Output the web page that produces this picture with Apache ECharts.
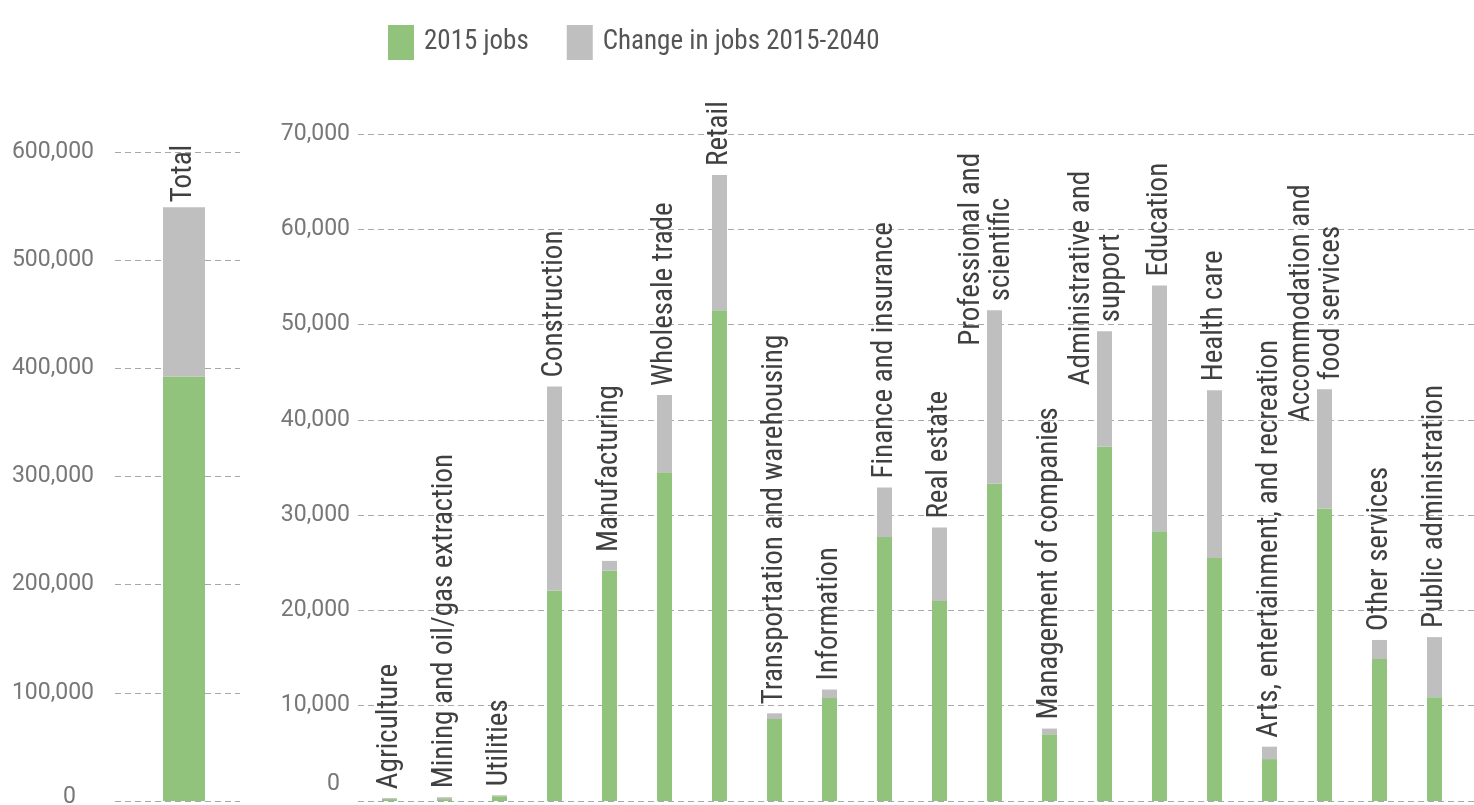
<!DOCTYPE html>
<html>
<head>
<meta charset="utf-8">
<script src="https://cdn.jsdelivr.net/npm/echarts@6/dist/echarts.min.js"></script>
<style>
  html, body { margin: 0; padding: 0; background: #ffffff; }
  #chart { width: 1474px; height: 805px; }
</style>
</head>
<body>
<div id="chart"></div>
<script>
// ---- data ----
const seriesNames = ['2015 jobs', 'Change in jobs 2015-2040'];
const totalCategory = ['Total'];
const totalJobs2015 = [392500];
const totalChange = [156500];
const categories = [
  'Agriculture',
  'Mining and oil/gas extraction',
  'Utilities',
  'Construction',
  'Manufacturing',
  'Wholesale trade',
  'Retail',
  'Transportation and warehousing',
  'Information',
  'Finance and insurance',
  'Real estate',
  'Professional and\nscientific',
  'Management of companies',
  'Administrative and\nsupport',
  'Education',
  'Health care',
  'Arts, entertainment, and recreation',
  'Accommodation and\nfood services',
  'Other services',
  'Public administration'
];
const jobs2015 = [200, 200, 500, 22100, 24200, 34500, 51500, 8600, 10800, 27700, 21000, 33300, 7000, 37200, 28300, 25500, 4400, 30700, 14900, 10900];
const jobsChange = [100, 200, 100, 21400, 1000, 8100, 14200, 600, 900, 5200, 7700, 18200, 600, 12100, 25800, 17600, 1300, 12500, 2000, 6300];
const leftTicks = { min: 0, max: 600000, interval: 100000 };
const rightTicks = { min: 0, max: 70000, interval: 10000 };

// ---- styles ----
const GREEN = '#91c37c';
const GREY = '#bfbfbf';
const labelFont = "'Liberation Sans Narrow', 'Roboto Condensed', 'DejaVu Sans Condensed', sans-serif";
const tickFont = "Roboto, 'Liberation Sans', sans-serif";
const LABEL_SIZE = 29;

function fmt(v) { return Number(v).toLocaleString('en-US'); }
function catLabel(p) {
  return String(p.name).split('\n').map(s => '{c|' + s + '}').join('\n');
}
const catLabelStyle = {
  show: true,
  position: 'top',
  rotate: 90,
  align: 'left',
  verticalAlign: 'middle',
  distance: 9,
  color: '#404040',
  fontFamily: labelFont,
  fontSize: LABEL_SIZE,
  lineHeight: 30,
  formatter: catLabel,
  rich: { c: { align: 'center', color: '#404040', fontFamily: labelFont, fontSize: LABEL_SIZE, lineHeight: 30 } }
};
const splitLineStyle = { show: true, lineStyle: { color: '#a8a8a8', type: [6, 4], width: 1 } };
function yLabel(padZero, margin) {
  return {
    color: '#777777',
    fontFamily: tickFont,
    fontSize: 23,
    margin: margin,
    formatter: function (v) { return v === 0 ? '{z|0}' : fmt(v); },
    rich: { z: { color: '#777777', fontFamily: tickFont, fontSize: 23, padding: padZero } }
  };
}
const hiddenX = { type: 'category', data: [], axisLine: { show: false }, axisTick: { show: false }, axisLabel: { show: false } };
function barX(grid, data) {
  return { type: 'category', gridIndex: grid, data: data, axisLine: { show: false }, axisTick: { show: false }, axisLabel: { show: false } };
}
function hiddenY(grid, t) {
  return { type: 'value', gridIndex: grid, min: t.min, max: t.max, interval: t.interval, show: false, splitLine: { show: false } };
}

// multi-line labels: centred lines, with the last (shorter) line resting on the bar.
// dx/dy act in the label's rotated frame (dx: along the text, dy: across it).
const measureCtx = document.createElement('canvas').getContext('2d');
measureCtx.font = LABEL_SIZE + 'px ' + labelFont;
function shiftMultiline(p) {
  const raw = String(p.text || '').replace(/\{c\|([^}]*)\}/g, '$1');
  if (raw.indexOf('\n') < 0) return {};
  const widths = raw.split('\n').map(s => measureCtx.measureText(s).width);
  const longest = Math.max.apply(null, widths);
  const last = widths[widths.length - 1];
  return { dx: -(longest - last) / 2, dy: -8 };
}

const chart = echarts.init(document.getElementById('chart'), null, { renderer: 'canvas' });
chart.setOption({
  animation: false,
  backgroundColor: '#ffffff',
  legend: {
    data: seriesNames,
    left: 383,
    top: 20,
    icon: 'rect',
    itemWidth: 26,
    itemHeight: 35,
    itemGap: 38,
    textStyle: { color: '#555555', fontFamily: labelFont, fontSize: 27, padding: [0, 0, 0, 5] }
  },
  grid: [
    { left: 115, width: 125, top: 152, bottom: 4, outerBoundsMode: 'none', containLabel: false },   // left gridlines + axis
    { left: 121.5, width: 125, top: 152, bottom: 4, outerBoundsMode: 'none', containLabel: false }, // total bar
    { left: 358, right: 0, top: 134, bottom: 4, outerBoundsMode: 'none', containLabel: false },     // right gridlines + axis
    { left: 362, width: 1100, top: 134, bottom: 4, outerBoundsMode: 'none', containLabel: false }   // industry bars
  ],
  xAxis: [
    Object.assign({ gridIndex: 0 }, hiddenX),
    barX(1, totalCategory),
    Object.assign({ gridIndex: 2 }, hiddenX),
    barX(3, categories)
  ],
  yAxis: [
    { type: 'value', gridIndex: 0, min: leftTicks.min, max: leftTicks.max, interval: leftTicks.interval,
      axisLine: { show: false }, axisTick: { show: false }, splitLine: splitLineStyle, axisLabel: yLabel([0, 18, 8, 0], 21) },
    hiddenY(1, leftTicks),
    { type: 'value', gridIndex: 2, min: rightTicks.min, max: rightTicks.max, interval: rightTicks.interval,
      axisLine: { show: false }, axisTick: { show: false }, splitLine: splitLineStyle, axisLabel: yLabel([0, 10, 34, 0], 8) },
    hiddenY(3, rightTicks)
  ],
  series: [
    { name: seriesNames[0], type: 'bar', xAxisIndex: 1, yAxisIndex: 1, stack: 'total', barWidth: 42,
      itemStyle: { color: GREEN }, data: totalJobs2015 },
    { name: seriesNames[1], type: 'bar', xAxisIndex: 1, yAxisIndex: 1, stack: 'total', barWidth: 42,
      itemStyle: { color: GREY }, data: totalChange, label: Object.assign({}, catLabelStyle, { distance: 5 }) },
    { name: seriesNames[0], type: 'bar', xAxisIndex: 3, yAxisIndex: 3, stack: 'ind', barWidth: 15,
      itemStyle: { color: GREEN }, data: jobs2015 },
    { name: seriesNames[1], type: 'bar', xAxisIndex: 3, yAxisIndex: 3, stack: 'ind', barWidth: 15,
      itemStyle: { color: GREY }, data: jobsChange, label: catLabelStyle, labelLayout: shiftMultiline }
  ]
});
</script>
</body>
</html>
